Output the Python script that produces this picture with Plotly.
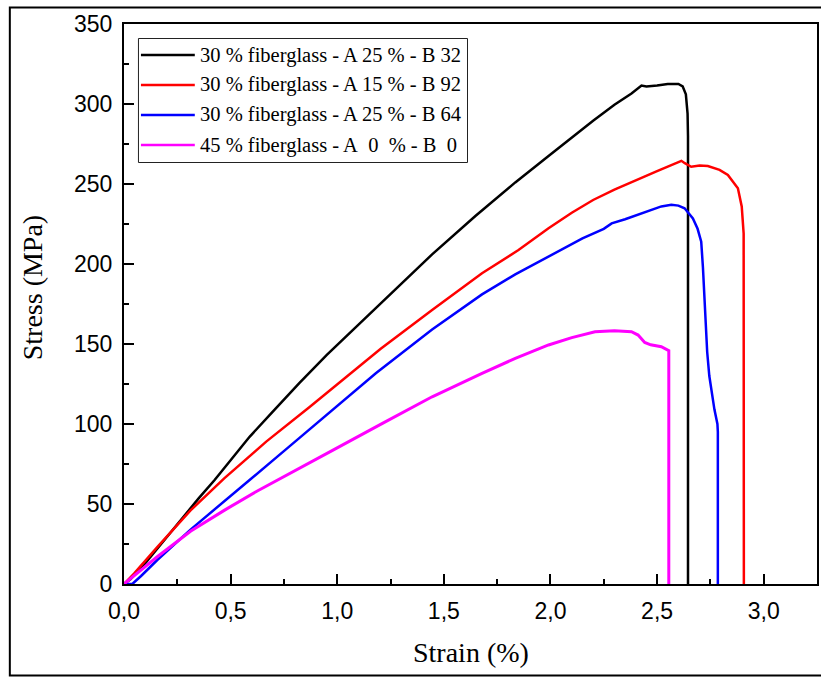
import plotly.graph_objects as go

# Tensile test curves: strain (%) vs stress (MPa)
strain_black = [0.0, 0.03, 0.1, 0.234, 0.35, 0.425, 0.5, 0.589, 0.7, 0.822, 0.95, 1.041, 1.227,
                1.445, 1.648, 1.835, 1.991, 2.1, 2.2, 2.3, 2.38, 2.427, 2.45, 2.5, 2.55, 2.6,
                2.62, 2.635, 2.643, 2.645, 2.645]
stress_black = [0, 3, 13, 35, 53.5, 65, 77.5, 92, 108, 125.5, 143, 154.5, 178.5,
                206, 230, 251, 267.5, 279, 289.5, 299.5, 306.5, 311.5, 311, 311.5, 312.5, 312.5,
                311, 306, 294, 280, 0]

strain_red = [0.0, 0.047, 0.156, 0.312, 0.47, 0.667, 0.869, 1.056, 1.204, 1.445, 1.679, 1.85,
              1.991, 2.1, 2.2, 2.3, 2.4, 2.5, 2.614, 2.63, 2.66, 2.7, 2.738, 2.793, 2.832,
              2.86, 2.879, 2.897, 2.906, 2.907]
stress_red = [0, 6.5, 23, 46, 66, 89, 110.5, 131, 147, 171.2, 194.2, 208.7,
              222.3, 232, 240, 246.5, 252, 258, 264.5, 263, 260.8, 261.5, 261.2, 258.8, 255.6,
              251, 247.3, 236, 219, 0]

strain_blue = [0.0, 0.039, 0.08, 0.156, 0.312, 0.47, 0.589, 0.776, 0.978, 1.181, 1.445, 1.679,
               1.835, 1.991, 2.15, 2.25, 2.287, 2.35, 2.45, 2.52, 2.567, 2.6, 2.629, 2.65,
               2.668, 2.69, 2.707, 2.715, 2.722, 2.728, 2.735, 2.745, 2.769, 2.783, 2.785, 2.785]
stress_blue = [0, 0, 5, 15, 34, 52, 65, 86, 108.7, 131.7, 159, 181,
               193.5, 204.6, 216, 222, 225.4, 228, 233, 236, 237, 236.5, 234.8, 231,
               228.5, 222, 214, 198, 177.5, 160, 145, 130, 109, 100, 95, 0]

strain_magenta = [0.0, 0.08, 0.156, 0.312, 0.47, 0.623, 0.76, 0.935, 0.978, 1.212, 1.445, 1.679,
                  1.835, 1.991, 2.1, 2.209, 2.3, 2.38, 2.411, 2.442, 2.47, 2.52, 2.555, 2.555]
stress_magenta = [0, 9, 17, 33, 46, 58, 68, 80.5, 83.5, 100.4, 117, 131.7,
                  141, 149.4, 154, 157.7, 158.3, 157.7, 155.6, 151, 149.5, 148.3, 145.8, 0]

series_names = [
    "30 % fiberglass - A 25 % - B 32",
    "30 % fiberglass - A 15 % - B 92",
    "30 % fiberglass - A 25 % - B 64",
    "45 % fiberglass - A\u00a0 0\u00a0 % - B\u00a0 0",
]
series_colors = ["#000000", "#ff0000", "#0000ff", "#ff00ff"]

x_tick_vals = [0.0, 0.5, 1.0, 1.5, 2.0, 2.5, 3.0]
x_tick_text = ["0,0", "0,5", "1,0", "1,5", "2,0", "2,5", "3,0"]
y_tick_vals = [0, 50, 100, 150, 200, 250, 300, 350]

series_x = [strain_black, strain_red, strain_blue, strain_magenta]
series_y = [stress_black, stress_red, stress_blue, stress_magenta]
series_width = [2.5, 2.5, 2.5, 3]

W, H = 821, 678
PL, PR, PT, PB = 124, 819, 24, 584  # plot box in pixels


def px_x(x):
    return (x - PL) / (PR - PL)


def px_y(y):
    return (PB - y) / (PB - PT)


fig = go.Figure()
for xs, ys, name, col, lw in zip(series_x, series_y, series_names, series_colors, series_width):
    fig.add_trace(go.Scatter(x=xs, y=ys, mode="lines", name=name,
                             line=dict(color=col, width=lw), showlegend=False))

serif = "Liberation Serif"
sans = "Liberation Sans"

axis_common = dict(
    showline=True, linecolor="black", linewidth=2, mirror=True,
    ticks="inside", ticklen=10, tickwidth=2, tickcolor="black",
    showgrid=False, zeroline=False, ticklabelstandoff=5,
    tickfont=dict(family=sans, size=23, color="black"),
)

fig.update_xaxes(range=[0, 3.25], tickvals=x_tick_vals, ticktext=x_tick_text,
                 minor=dict(ticks="inside", ticklen=5, tickwidth=2, tickcolor="black", dtick=0.25,
                            tick0=0),
                 **axis_common)
fig.update_yaxes(range=[0, 350], tickvals=y_tick_vals,
                 minor=dict(ticks="inside", ticklen=5, tickwidth=2, tickcolor="black", dtick=25,
                            tick0=0),
                 **axis_common)

shapes = []
annotations = []

# outer frame
shapes.append(dict(type="rect", xref="paper", yref="paper",
                   x0=px_x(9.5), x1=px_x(830), y0=px_y(675.5), y1=px_y(7.5),
                   line=dict(color="black", width=2), fillcolor="rgba(0,0,0,0)", layer="below"))

# legend box
shapes.append(dict(type="rect", xref="paper", yref="paper",
                   x0=px_x(138.5), x1=px_x(468.5), y0=px_y(162.5), y1=px_y(38.5),
                   line=dict(color="#222222", width=1), fillcolor="white"))
row_y = [55, 85, 115, 145]
for ry, name, col in zip(row_y, series_names, series_colors):
    shapes.append(dict(type="line", xref="paper", yref="paper",
                       x0=px_x(141), x1=px_x(195), y0=px_y(ry), y1=px_y(ry),
                       line=dict(color=col, width=2.5)))
    annotations.append(dict(xref="paper", yref="paper", x=px_x(198), y=px_y(ry),
                            xanchor="left", yanchor="middle", showarrow=False,
                            text=name, font=dict(family=serif, size=20.5, color="black")))

# axis titles
annotations.append(dict(xref="paper", yref="paper", x=px_x(471.5), y=px_y(652),
                        xanchor="center", yanchor="middle", showarrow=False,
                        text="Strain (%)", font=dict(family=serif, size=28, color="black")))
annotations.append(dict(xref="paper", yref="paper", x=px_x(32), y=px_y(288),
                        xanchor="center", yanchor="middle", showarrow=False, textangle=-90,
                        text="Stress (MPa)", font=dict(family=serif, size=28, color="black")))

fig.update_layout(
    width=W, height=H,
    margin=dict(l=PL, r=W - PR, t=PT, b=H - PB, pad=0),
    paper_bgcolor="white", plot_bgcolor="white",
    shapes=shapes, annotations=annotations,
    showlegend=False,
)

fig.write_html("out.html")
